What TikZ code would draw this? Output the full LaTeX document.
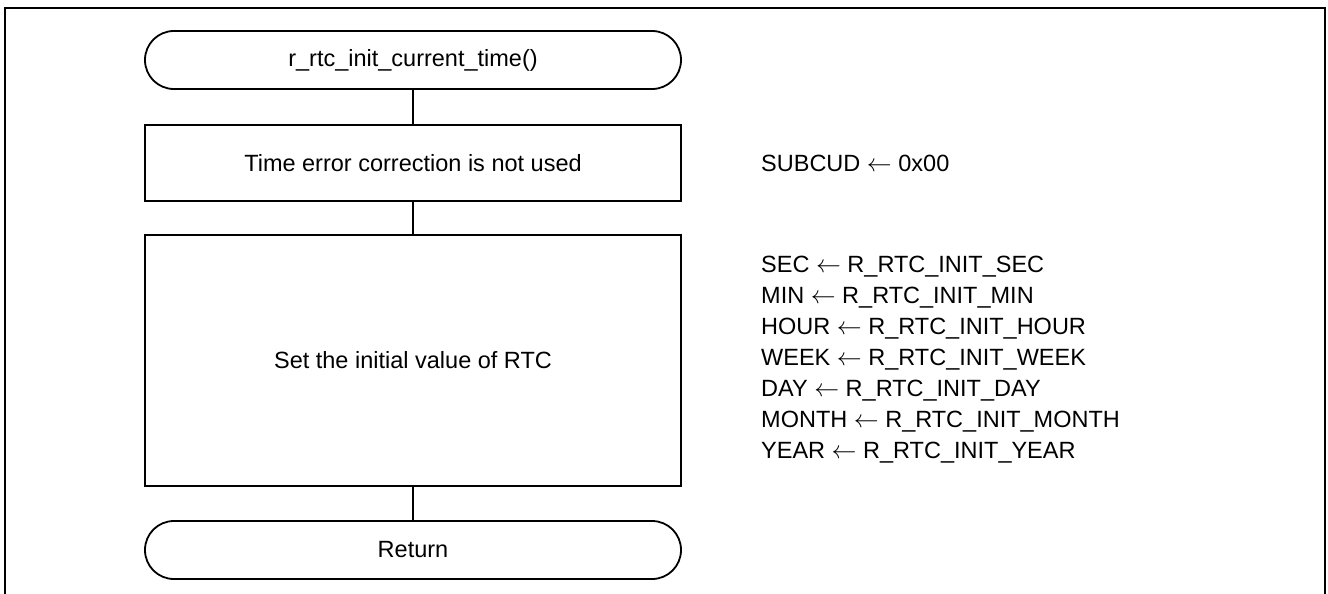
\documentclass[tikz,border=0pt]{standalone}
\usepackage{fontspec}
\setmainfont{Liberation Sans}
\newcommand{\assignto}{\ensuremath{\leftarrow}}
\begin{document}
\begin{tikzpicture}[x=1pt,y=-1pt,
  every node/.style={font=\fontsize{23.5}{31}\selectfont, inner sep=0pt},
  terminal/.style={draw, line width=1.8pt, rectangle, rounded corners=28.9pt,
    minimum width=536pt, minimum height=58pt},
  procbox/.style={draw, line width=1.8pt, rectangle, minimum width=536pt},
  flowline/.style={line width=1.8pt},
  note/.style={anchor=west, align=left}]
\useasboundingbox (0,0) rectangle (1328,594);
% outer frame (runs past the lower edge of the page)
\begin{scope}
  \clip (0,0) rectangle (1328,594);
  \draw[line width=2pt] (4.5,620) -- (4.5,8.5) -- (1325,8.5) -- (1325,620);
\end{scope}
% flowchart
\node[terminal] (start) at (413,60) {r\_rtc\_init\_current\_time()};
\node[procbox, minimum height=76pt] (corr) at (413,163) {Time error correction is not used};
\node[procbox, minimum height=251pt] (init) at (413,360.5) {Set the initial value of RTC};
\node[terminal] (stop) at (413,550) {Return};
\draw[flowline] (start) -- (corr);
\draw[flowline] (corr) -- (init);
\draw[flowline] (init) -- (stop);
% register assignments
\node[note] (corrnote) at (761,163) {SUBCUD \assignto{} 0x00};
\node[note] (initnote) at (761,360) {SEC \assignto{} R\_RTC\_INIT\_SEC\\
MIN \assignto{} R\_RTC\_INIT\_MIN\\
HOUR \assignto{} R\_RTC\_INIT\_HOUR\\
WEEK \assignto{} R\_RTC\_INIT\_WEEK\\
DAY \assignto{} R\_RTC\_INIT\_DAY\\
MONTH \assignto{} R\_RTC\_INIT\_MONTH\\
YEAR \assignto{} R\_RTC\_INIT\_YEAR};
\end{tikzpicture}
\end{document}
